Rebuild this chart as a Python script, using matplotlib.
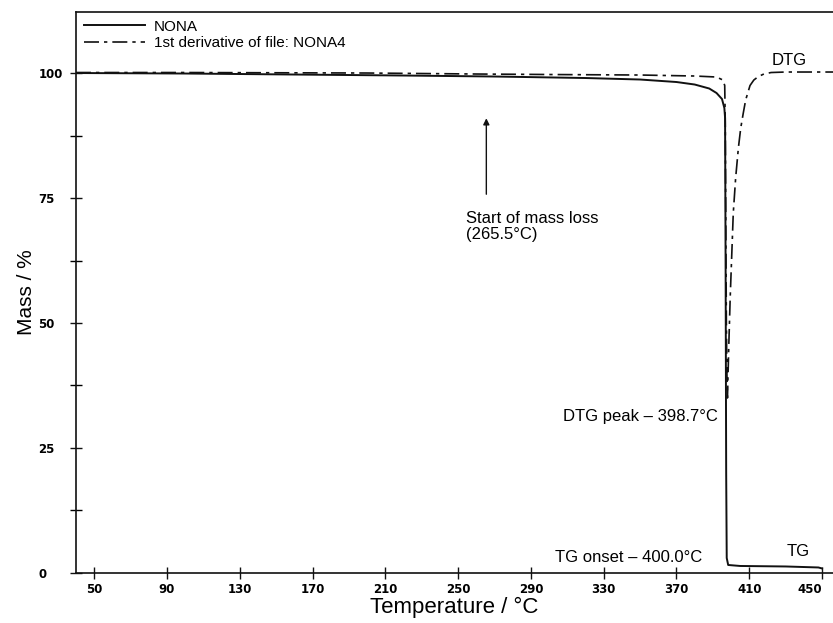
import numpy as np
import matplotlib
matplotlib.use("Agg")
import matplotlib.pyplot as plt
from matplotlib.ticker import MultipleLocator

plt.rcParams['font.family'] = ['Liberation Sans', 'DejaVu Sans']

# TG curve (solid)
tg_temp = [40, 100, 160, 220, 270, 320, 350, 370, 380, 388, 392, 395, 396.3,
           396.7, 397.0, 397.3, 397.6, 398.4, 405, 430, 448, 450]
tg_mass = [100.0, 99.9, 99.7, 99.5, 99.3, 99.0, 98.7, 98.2, 97.7, 96.9, 96.0,
           94.8, 93.0, 91.0, 60.0, 20.0, 3.0, 1.6, 1.4, 1.3, 1.1, 0.9]

# DTG curve (dash-dot), drawn on the same scale
dtg_temp = [40, 100, 200, 260, 300, 350, 380, 392, 395.5, 396.5, 396.8, 397.1,
            397.4, 397.7, 398.0, 398.7, 399.5, 400.3, 401.2, 402.5, 404, 405.3,
            406.7, 408, 410.4, 412.5, 415, 418, 422, 430, 456]
dtg_val = [100.1, 100.1, 100.0, 99.8, 99.7, 99.6, 99.4, 99.2, 98.6, 97.5, 90.0,
           70.0, 50.0, 40.0, 35.0, 45.0, 55.0, 63.0, 72.0, 79.0, 85.0, 89.0,
           92.0, 94.6, 97.5, 98.6, 99.3, 99.8, 100.1, 100.2, 100.2]

x_ticks = [50, 90, 130, 170, 210, 250, 290, 330, 370, 410, 450]
y_ticks = [0, 25, 50, 75, 100]

onset_temp = 265.5

fig = plt.figure(figsize=(8.33, 6.23), dpi=100)
ax = fig.add_axes([0.0912, 0.0803, 0.9088, 0.9004])

ink = '#111111'
ax.plot(tg_temp, tg_mass, color=ink, lw=1.4, label='NONA')
ax.plot(dtg_temp, dtg_val, color=ink, lw=1.2, linestyle=(0, (9, 3, 2, 3)),
        label='1st derivative of file: NONA4')

ax.set_xlim(40, 456)
ax.set_ylim(0, 112.2)
ax.set_xticks(x_ticks)
ax.set_yticks(y_ticks)
ax.yaxis.set_minor_locator(MultipleLocator(12.5))
ax.tick_params(axis='both', which='major', direction='inout', length=8,
               width=1.0, color=ink, labelsize=8.5, pad=3)
ax.tick_params(axis='y', which='major', pad=23)
ax.tick_params(axis='y', which='minor', direction='inout', length=8, width=1.0)
for lab in ax.get_xticklabels() + ax.get_yticklabels():
    lab.set_fontweight('bold')
    lab.set_family('DejaVu Sans')
for lab in ax.get_yticklabels():
    lab.set_horizontalalignment('left')
ax.get_xticklabels()[-1].set_horizontalalignment('right')

ax.spines['right'].set_visible(False)
for s in ['left', 'top', 'bottom']:
    ax.spines[s].set_linewidth(1.2)
    ax.spines[s].set_color(ink)

ax.set_xlabel('Temperature / °C', fontsize=16, labelpad=1)
ax.set_ylabel('Mass / %', fontsize=15, labelpad=2)

leg = ax.legend(loc='upper left', frameon=False, fontsize=11, handlelength=4,
                borderaxespad=0.1, labelspacing=0.15, handletextpad=0.6,
                bbox_to_anchor=(0.0, 1.0))

ax.annotate('', xy=(onset_temp, 91.5), xytext=(onset_temp, 75.2),
            arrowprops=dict(arrowstyle='-|>', color=ink, lw=1.0,
                            mutation_scale=9))
ax.text(254.5, 69.3, 'Start of mass loss\n(265.5°C)', fontsize=12,
        ha='left', va='center', linespacing=1.15)
ax.text(393, 31.2, 'DTG peak – 398.7°C', fontsize=12, ha='right', va='center')
ax.text(384, 3.0, 'TG onset – 400.0°C', fontsize=12, ha='right', va='center')
ax.text(432, 102.6, 'DTG', fontsize=12, ha='center', va='center')
ax.text(436.6, 4.3, 'TG', fontsize=12, ha='center', va='center')

fig.savefig('out.png', dpi=100)
